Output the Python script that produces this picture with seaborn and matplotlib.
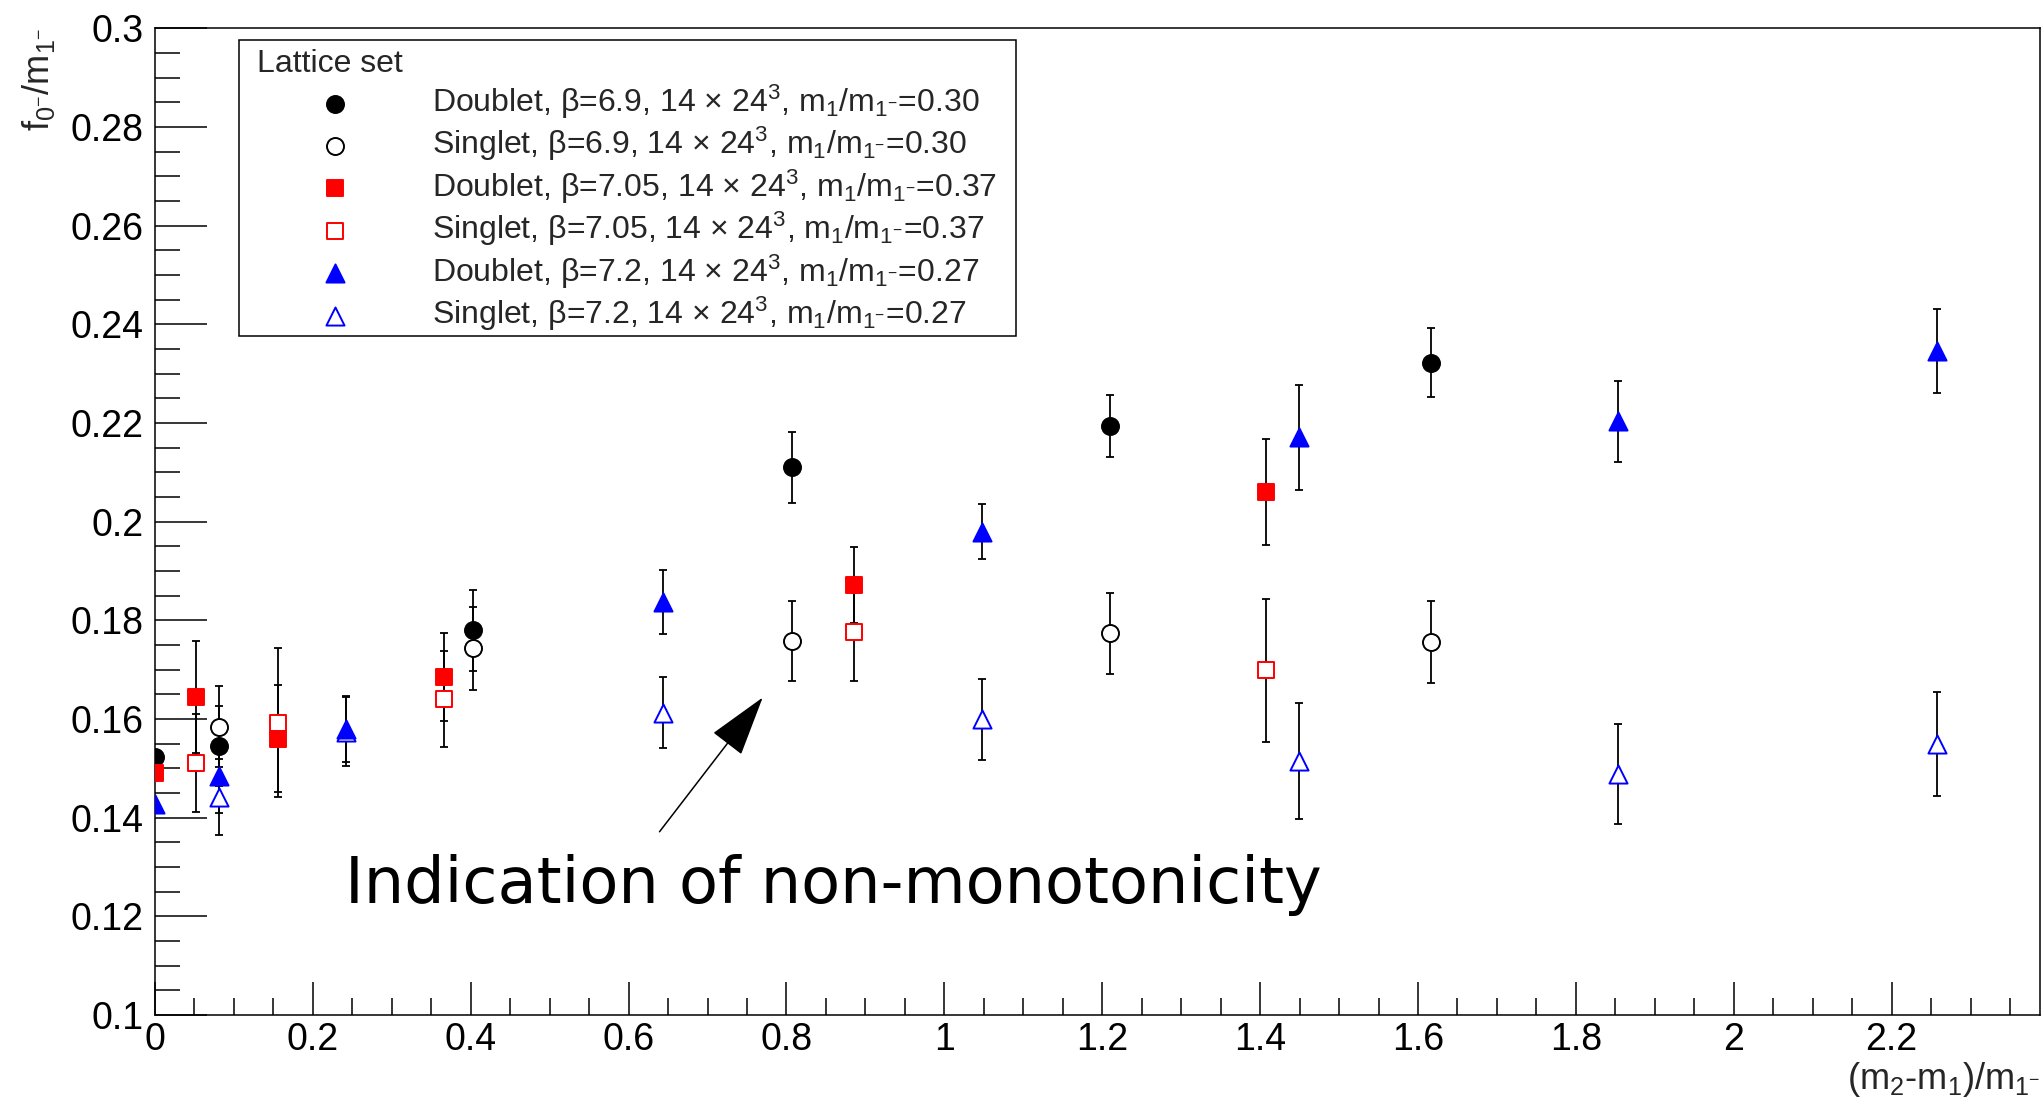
import matplotlib
matplotlib.use("Agg")
import matplotlib.pyplot as plt
import matplotlib.patches as mpatches
import seaborn as sns
import numpy as np
import pandas as pd
from matplotlib.ticker import MultipleLocator, FuncFormatter

# ---------------- data ----------------
dbl69_x = [0.0, 0.081, 0.403, 0.807, 1.210, 1.6165]
dbl69_y = [0.1523, 0.1545, 0.1780, 0.2110, 0.2194, 0.2322]
dbl69_e = [0.0, 0.0081, 0.0082, 0.0072, 0.0062, 0.0070]

sgl69_x = [0.081, 0.403, 0.807, 1.210, 1.6165]
sgl69_y = [0.1584, 0.1743, 0.1758, 0.1774, 0.1756]
sgl69_e = [0.0082, 0.0085, 0.0082, 0.0082, 0.0084]

dbl705_x = [0.0, 0.052, 0.156, 0.366, 0.885, 1.408]
dbl705_y = [0.1491, 0.1645, 0.1560, 0.1685, 0.1871, 0.2060]
dbl705_e = [0.0, 0.0113, 0.0108, 0.0090, 0.0077, 0.0108]

sgl705_x = [0.052, 0.156, 0.366, 0.885, 1.408]
sgl705_y = [0.1511, 0.1592, 0.1640, 0.1777, 0.1699]
sgl705_e = [0.0099, 0.0151, 0.0097, 0.0100, 0.0145]

dbl72_x = [0.0, 0.081, 0.2426, 0.643, 1.048, 1.449, 1.854, 2.258]
dbl72_y = [0.1427, 0.1485, 0.1580, 0.1838, 0.1980, 0.2171, 0.2203, 0.2346]
dbl72_e = [0.0, 0.0075, 0.0067, 0.0065, 0.0056, 0.0106, 0.0083, 0.0086]

sgl72_x = [0.081, 0.2426, 0.643, 1.048, 1.449, 1.854, 2.258]
sgl72_y = [0.1442, 0.1574, 0.1613, 0.1599, 0.1515, 0.1489, 0.1549]
sgl72_e = [0.0077, 0.0070, 0.0072, 0.0083, 0.0118, 0.0101, 0.0105]

labels = [
    r"Doublet, β=6.9, 14 × 24$^{3}$, $m_{1}/m_{1^{-}}$=0.30",
    r"Singlet, β=6.9, 14 × 24$^{3}$, $m_{1}/m_{1^{-}}$=0.30",
    r"Doublet, β=7.05, 14 × 24$^{3}$, $m_{1}/m_{1^{-}}$=0.37",
    r"Singlet, β=7.05, 14 × 24$^{3}$, $m_{1}/m_{1^{-}}$=0.37",
    r"Doublet, β=7.2, 14 × 24$^{3}$, $m_{1}/m_{1^{-}}$=0.27",
    r"Singlet, β=7.2, 14 × 24$^{3}$, $m_{1}/m_{1^{-}}$=0.27",
]
legend_title = "Lattice set"
annotation_text = "Indication of non-monotonicity"
xlabel = r"$(m_{2}$-$m_{1})/m_{1^{-}}$"
ylabel = r"$f_{0^{-}}/m_{1^{-}}$"

# ---------------- style ----------------
sns.set_theme(style="white")
plt.rcParams["font.family"] = ["Liberation Sans", "DejaVu Sans"]
plt.rcParams["mathtext.fontset"] = "custom"
plt.rcParams["mathtext.rm"] = "Liberation Sans"
plt.rcParams["mathtext.it"] = "Liberation Sans"
plt.rcParams["mathtext.bf"] = "Liberation Sans:bold"
plt.rcParams["mathtext.default"] = "rm"
plt.rcParams["axes.edgecolor"] = "black"
plt.rcParams["axes.linewidth"] = 1.1

W, H = 2044, 1108
AX_L, AX_R, AX_T, AX_B = 155, 2040, 28.3, 1015
AW, AH = AX_R - AX_L, AX_B - AX_T
fig = plt.figure(figsize=(W / 100, H / 100), dpi=100)
ax = fig.add_axes([AX_L / W, 1 - AX_B / H, AW / W, AH / H])
ax.set_facecolor("white")

series = [
    (dbl69_x, dbl69_y, dbl69_e, "o", "black", "black", 4),
    (sgl69_x, sgl69_y, sgl69_e, "o", "white", "black", 3),
    (dbl705_x, dbl705_y, dbl705_e, "s", "#ff0000", "#ff0000", 4),
    (sgl705_x, sgl705_y, sgl705_e, "s", "white", "#ff0000", 3),
    (dbl72_x, dbl72_y, dbl72_e, "^", "#0000ff", "#0000ff", 4),
    (sgl72_x, sgl72_y, sgl72_e, "^", "white", "#0000ff", 3),
]
sizes = {"o": 150, "s": 140, "^": 170}

handles = []
for (xs, ys, es, mk, fc, ec, z), lab in zip(series, labels):
    ax.errorbar(xs, ys, yerr=es, fmt="none", ecolor="black", elinewidth=1.3,
                capsize=2.8, capthick=1.3, zorder=2)
    sns.scatterplot(x=xs, y=ys, ax=ax, marker=mk, s=sizes[mk], color=fc,
                    edgecolor=ec, linewidth=1.4, legend=False, zorder=z,
                    label=lab)
    handles.append(ax.collections[-1])

# ---------------- axes ----------------
ax.set_xlim(0, 2.388)
ax.set_ylim(0.1, 0.3)
ax.xaxis.set_major_locator(MultipleLocator(0.2))
ax.xaxis.set_minor_locator(MultipleLocator(0.05))
ax.yaxis.set_major_locator(MultipleLocator(0.02))
ax.yaxis.set_minor_locator(MultipleLocator(0.005))
fmt = FuncFormatter(lambda v, p: ("%.2f" % v).rstrip("0").rstrip(".") if abs(v) > 1e-9 else "0")
ax.xaxis.set_major_formatter(fmt)
ax.yaxis.set_major_formatter(fmt)
ax.tick_params(axis="y", which="major", direction="in", length=37.5, width=1.1,
               labelsize=27, pad=8, left=True, right=False, colors="black")
ax.tick_params(axis="y", which="minor", direction="in", length=18, width=1.1,
               left=True, right=False, colors="black")
ax.tick_params(axis="x", which="major", direction="in", length=24, width=1.1,
               labelsize=27, pad=5, bottom=True, top=False, colors="black")
ax.tick_params(axis="x", which="minor", direction="in", length=12, width=1.1,
               bottom=True, top=False, colors="black")
for s in ax.spines.values():
    s.set_visible(True)
    s.set_color("black")
    s.set_linewidth(1.1)

ax.set_xlabel(xlabel, fontsize=26, loc="right")
ax.xaxis.set_label_coords(1.0, -0.046)
ax.set_ylabel(ylabel, fontsize=26, loc="top")
ax.yaxis.set_label_coords(-0.052, 1.0)

# ---------------- legend ----------------
box_l, box_t, box_r, box_b = 238.6, 40.4, 1015.5, 336.3
frame = mpatches.Rectangle(((box_l - AX_L) / AW, (AX_B - box_b) / AH),
                           (box_r - box_l) / AW, (box_b - box_t) / AH,
                           transform=ax.transAxes, facecolor="white",
                           edgecolor="black", linewidth=1.1, zorder=5,
                           clip_on=False)
ax.add_patch(frame)
leg = ax.legend(handles=handles, labels=labels, title=legend_title,
                loc="upper left",
                bbox_to_anchor=((256.8 - AX_L) / AW, (AX_B - 48.5) / AH),
                borderaxespad=0, fontsize=23, title_fontsize=23, frameon=False,
                handlelength=4.9, handletextpad=0.58, labelspacing=0.13,
                borderpad=0.0, alignment="left", scatterpoints=1)
leg.set_zorder(6)

# ---------------- annotation ----------------
ax.annotate("", xy=(0.772, 0.1648), xytext=(0.637, 0.1367),
            arrowprops=dict(arrowstyle="-|>,head_length=1.4,head_width=0.42",
                            color="black", lw=1.1, mutation_scale=28))
ax.text(0.2405, 0.1227, annotation_text, fontsize=46, family="DejaVu Sans",
        ha="left", va="baseline", color="black")

fig.savefig("out.png", dpi=100)
